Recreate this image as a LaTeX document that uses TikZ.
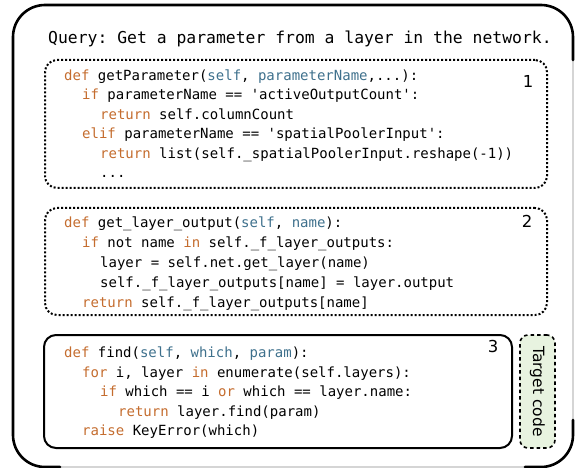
\documentclass[tikz,border=0pt]{standalone}
\usepackage{fontspec}
\setmonofont{DejaVu Sans Mono}
\newfontfamily\labelfont{DejaVu Sans}
\definecolor{kwc}{RGB}{196,108,46}
\definecolor{prc}{RGB}{62,112,140}
\definecolor{tgfill}{RGB}{232,243,224}
\newcommand\kwd[1]{\textcolor{kwc}{#1}}
\newcommand\prm[1]{\textcolor{prc}{#1}}
\newcommand\sq{\textquotesingle}
\tikzset{
  codeline/.style={anchor=base west, inner sep=0pt, font=\ttfamily\fontsize{14}{16}\selectfont},
  numlabel/.style={inner sep=0pt, font=\labelfont\fontsize{16.5}{18}\selectfont},
  dotbox/.style={draw, line width=2pt, dash pattern=on 2pt off 2pt, rounded corners=12pt, inner sep=0pt},
  solidbox/.style={draw, line width=2pt, rounded corners=12pt, inner sep=0pt},
  targetbox/.style={draw, fill=tgfill, line width=1.6pt, dash pattern=on 3.5pt off 3pt, rounded corners=8pt, inner sep=0pt},
  frame/.style={line width=2.6pt, rounded corners=32pt, line cap=round, line join=round}
}
\begin{document}
\begin{tikzpicture}[x=1pt, y=-1pt]
\useasboundingbox (0,0) rectangle (576,468);
% outer frame
\draw[gray!50, line width=1.3pt, rounded corners=32pt] (13,5) rectangle (573,467);
\draw[frame] (573,60) -- (573,5) -- (13,5) -- (13,467) -- (60,467);
\draw[frame] (525,467) -- (573,467) -- (573,420);
% query
\node[anchor=base west, inner sep=0pt, font=\ttfamily\fontsize{16.4}{18}\selectfont] (query) at (48,43.5) {Query: Get a parameter from a layer in the network.};
% boxes
\node[dotbox, minimum width=502pt, minimum height=128pt] (box1) at (296,124) {};
\node[dotbox, minimum width=502pt, minimum height=107pt] (box2) at (296,261.5) {};
\node[solidbox, minimum width=468pt, minimum height=113pt] (box3) at (278,391.5) {};
\node[targetbox, minimum width=35pt, minimum height=113pt] (target) at (537.5,391.5) {};
\node[inner sep=0pt, rotate=-90, font=\labelfont\fontsize{15.5}{17}\selectfont] (targettext) at (target.center) {Target code};
% numbers
\node[numlabel] (n1) at (528,81) {1};
\node[numlabel] (n2) at (527,221.5) {2};
\node[numlabel] (n3) at (493,346.5) {3};
% box 1 code
\node[codeline] (a1) at (64,80.5) {\kwd{def} getParameter(\prm{self}, \prm{parameterName},...):};
\node[codeline] (a2) at (82,100) {\kwd{if} parameterName == \sq activeOutputCount\sq:};
\node[codeline] (a3) at (100,119.5) {\kwd{return} self.columnCount};
\node[codeline] (a4) at (82,139) {\kwd{elif} parameterName == \sq spatialPoolerInput\sq:};
\node[codeline] (a5) at (100,158.5) {\kwd{return} list(self.\_spatialPoolerInput.reshape(-1))};
\node[codeline] (a6) at (100,178) {...};
% box 2 code
\node[codeline] (b1) at (64,227.5) {\kwd{def} get\_layer\_output(\prm{self}, \prm{name}):};
\node[codeline] (b2) at (82,247.5) {\kwd{if} not name \kwd{in} self.\_f\_layer\_outputs:};
\node[codeline] (b3) at (100,267.5) {layer = self.net.get\_layer(name)};
\node[codeline] (b4) at (100,287.5) {self.\_f\_layer\_outputs[name] = layer.output};
\node[codeline] (b5) at (82,307) {\kwd{return} self.\_f\_layer\_outputs[name]};
% box 3 code
\node[codeline] (c1) at (64,357.5) {\kwd{def} find(\prm{self}, \prm{which}, \prm{param}):};
\node[codeline] (c2) at (82,377) {\kwd{for} i, layer \kwd{in} enumerate(self.layers):};
\node[codeline] (c3) at (100,396.5) {\kwd{if} which == i \kwd{or} which == layer.name:};
\node[codeline] (c4) at (118,416) {\kwd{return} layer.find(param)};
\node[codeline] (c5) at (82,435.5) {\kwd{raise} KeyError(which)};
\end{tikzpicture}
\end{document}
